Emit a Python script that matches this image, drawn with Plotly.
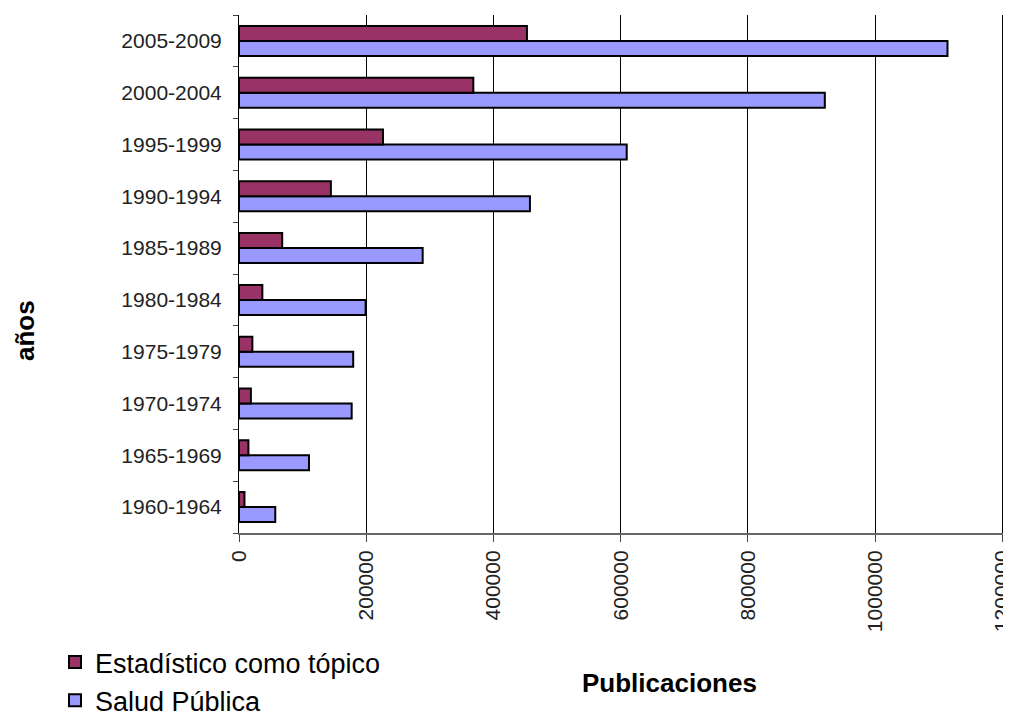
import plotly.graph_objects as go

periods = ["1960-1964", "1965-1969", "1970-1974", "1975-1979", "1980-1984",
           "1985-1989", "1990-1994", "1995-1999", "2000-2004", "2005-2009"]
estadistico = [8600, 14800, 18700, 21000, 36700, 67900, 144400, 226300, 368300, 452600]
salud_publica = [57000, 110000, 177100, 179500, 199000, 288700, 457300, 609400, 920800, 1113600]
x_ticks = [0, 200000, 400000, 600000, 800000, 1000000, 1200000]

FONT = "Liberation Sans, Arial, sans-serif"

OFF = 8  # page body margin
W, H = 1011 - OFF, 725 - OFF
L, R, T, B = 239 - OFF, 1005 - OFF, 15 - OFF, 533 - OFF  # plot area in figure pixels


def px_x(x):
    return (x - OFF - L) / (R - L)


def px_y(y):
    return (B - (y - OFF)) / (B - T)


fig = go.Figure()
fig.add_trace(go.Bar(
    y=periods, x=salud_publica, orientation="h", name="Salud Pública",
    marker=dict(color="#9999FF", line=dict(color="black", width=2)),
))
fig.add_trace(go.Bar(
    y=periods, x=estadistico, orientation="h", name="Estadístico como tópico",
    marker=dict(color="#993366", line=dict(color="black", width=2)),
))

fig.update_layout(
    width=W, height=H,
    margin=dict(l=L, r=W - R, t=T, b=H - B, autoexpand=False),
    paper_bgcolor="white", plot_bgcolor="white",
    barmode="group", bargap=0.42, bargroupgap=0,
    font=dict(family=FONT, color="black"),
    showlegend=True,
    legend=dict(
        traceorder="reversed",
        x=px_x(55), y=px_y(638), xanchor="left", yanchor="top",
        font=dict(size=27, family=FONT, color="black"),
        bgcolor="rgba(0,0,0,0)",
        itemwidth=30,
    ),
)

fig.update_xaxes(
    range=[0, 1204000], tickvals=x_ticks, tickformat="d",
    tickangle=-90, tickfont=dict(size=21, family=FONT, color="#222"),
    ticklabeloverflow="allow",
    showgrid=True, gridcolor="black", gridwidth=1,
    showline=True, linecolor="#666", linewidth=2,
    ticks="outside", ticklen=7, tickcolor="#444", tickwidth=1,
    zeroline=False,
)
fig.update_yaxes(
    categoryorder="array", categoryarray=periods,
    tickson="boundaries", ticks="outside", ticklen=5, tickcolor="#444",
    tickfont=dict(size=21, family=FONT, color="#222"),
    ticklabelstandoff=12,
    showline=True, linecolor="black", linewidth=1,
    showgrid=False,
)

fig.add_annotation(
    text="<b>Publicaciones</b>", xref="paper", yref="paper",
    x=px_x(669), y=px_y(683),
    showarrow=False, font=dict(size=26, family=FONT, color="black"),
    xanchor="center", yanchor="middle",
)
fig.add_annotation(
    text="<b>años</b>", xref="paper", yref="paper",
    x=px_x(25), y=px_y(331),
    showarrow=False, textangle=-90, font=dict(size=26, family=FONT, color="black"),
    xanchor="center", yanchor="middle",
)

fig.write_html("out.html")
